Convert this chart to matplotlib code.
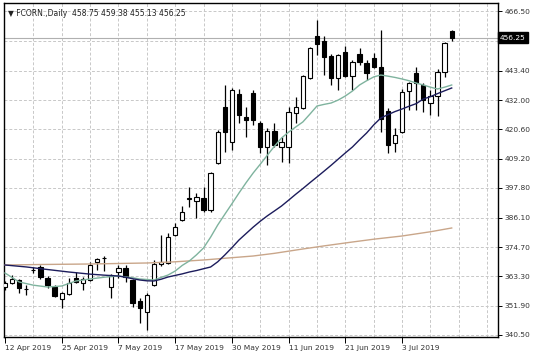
import matplotlib
matplotlib.use("Agg")
import matplotlib.pyplot as plt
import numpy as np

# daily bars, 12 Apr 2019 .. 15 Jul 2019 (bar index 0..63)
opens = [359.19, 360.75, 361.92, 358.41, 365.81, 366.98, 362.70, 359.19, 354.52, 356.47,
         362.70, 360.75, 361.92, 368.93, 370.48, 359.19, 365.03, 366.59, 361.92, 353.74,
         349.46, 359.97, 368.15, 368.54, 379.44, 385.28, 393.46, 392.68, 393.85, 389.18,
         407.48, 429.28, 415.65, 434.35, 425.39, 434.73, 423.05, 413.71, 419.94, 413.71,
         413.71, 426.95, 428.89, 440.58, 456.93, 454.98, 449.14, 440.58, 450.70, 441.35,
         449.92, 446.42, 448.36, 444.86, 427.73, 415.26, 419.55, 435.51, 442.52, 437.85,
         430.84, 433.57, 442.91, 458.75]
highs = [361.53, 363.86, 362.31, 359.97, 366.98, 367.76, 363.47, 359.97, 357.24, 362.70,
         365.03, 363.09, 368.93, 370.48, 371.26, 364.25, 367.76, 367.76, 362.31, 354.91,
         356.85, 369.71, 379.44, 380.22, 384.11, 390.73, 398.13, 395.79, 398.13, 403.97,
         420.33, 437.85, 436.68, 436.29, 429.28, 435.90, 423.83, 421.11, 423.05, 417.60,
         429.28, 433.18, 441.74, 452.65, 463.16, 456.93, 449.92, 449.92, 453.04, 447.59,
         452.26, 447.59, 450.31, 459.27, 428.89, 421.11, 436.29, 439.02, 444.86, 438.63,
         435.90, 444.08, 454.59, 459.38]
lows = [358.02, 360.36, 356.85, 356.08, 364.64, 362.31, 358.80, 355.30, 351.01, 356.08,
        360.75, 358.02, 361.53, 365.81, 365.42, 354.91, 362.70, 361.14, 351.40, 345.17,
        342.45, 359.58, 367.37, 368.15, 379.05, 384.89, 390.34, 386.06, 388.40, 388.40,
        407.09, 411.76, 412.54, 423.05, 417.60, 422.27, 411.37, 406.70, 413.71, 407.87,
        407.48, 423.05, 428.50, 440.19, 449.53, 441.74, 437.85, 435.90, 440.97, 435.90,
        445.64, 439.80, 444.47, 419.55, 411.37, 411.76, 419.16, 428.12, 428.12, 427.34,
        426.17, 425.78, 440.97, 455.13]
closes = [360.75, 362.31, 358.80, 358.22, 365.90, 363.09, 359.97, 355.69, 356.85, 360.75,
          361.14, 362.31, 367.76, 370.09, 370.29, 363.86, 366.59, 363.09, 352.96, 351.01,
          356.08, 368.15, 368.93, 378.66, 382.56, 388.40, 393.85, 394.24, 389.18, 403.58,
          419.55, 419.55, 435.90, 426.17, 424.22, 424.22, 413.71, 419.94, 414.49, 415.65,
          427.34, 429.28, 441.35, 452.26, 453.82, 448.75, 440.58, 449.53, 441.35, 446.81,
          446.81, 442.52, 444.86, 424.61, 414.49, 418.38, 435.12, 438.63, 438.63, 432.01,
          433.57, 442.91, 454.20, 456.25]

# moving averages (bar index, value)
ma_fast_idx = [0, 2, 4, 6, 8, 10, 12, 14, 16, 18, 19, 21, 23, 24, 25, 26, 27, 28, 29, 30,
               31, 32, 33, 34, 35, 36, 37, 38, 39, 40, 41, 42, 43, 44, 45, 46, 47, 48, 49,
               50, 51, 52, 53, 54, 55, 56, 57, 58, 59, 60, 61, 62, 63]
ma_fast = [364.64, 361.14, 359.90, 359.19, 359.58, 361.53, 362.31, 363.00, 363.47, 362.80,
           362.31, 361.92, 363.86, 365.40, 367.60, 369.32, 371.70, 374.38, 378.60, 383.33,
           387.50, 391.60, 395.79, 399.80, 403.58, 407.00, 410.50, 414.00, 417.21, 419.50,
           421.50, 423.44, 426.50, 429.67, 430.30, 430.84, 432.00, 433.57, 435.50, 437.85,
           439.50, 441.00, 441.74, 441.30, 440.80, 440.19, 439.50, 438.60, 437.85, 437.00,
           436.29, 437.00, 437.85]
ma_mid_idx = [0, 3, 6, 9, 12, 14, 16, 17, 18, 19, 20, 21, 22, 23, 24, 25, 26, 27, 28, 29,
              30, 31, 32, 33, 34, 35, 36, 37, 38, 39, 40, 41, 42, 43, 44, 45, 46, 47, 48,
              49, 50, 51, 52, 53, 54, 55, 56, 57, 58, 59, 60, 61, 62, 63]
ma_mid = [367.76, 367.00, 366.00, 365.03, 364.20, 363.80, 363.47, 363.00, 362.40, 361.92,
          361.60, 361.53, 362.20, 363.09, 363.70, 364.30, 365.03, 365.60, 366.30, 366.98,
          369.00, 371.65, 374.50, 377.49, 380.00, 382.50, 384.80, 386.90, 388.80, 390.73,
          393.00, 395.30, 397.50, 399.80, 402.03, 404.30, 406.60, 409.00, 411.40, 413.71,
          416.50, 419.16, 422.30, 425.00, 426.30, 427.50, 428.50, 429.60, 430.60, 432.40,
          433.30, 434.50, 435.60, 436.68]
ma_slow_idx = [0, 5, 12, 20, 24, 28, 32, 35, 38, 42, 45, 49, 52, 56, 60, 63]
ma_slow = [367.76, 367.95, 368.15, 368.54, 369.00, 369.71, 370.60, 371.26, 372.30, 373.99,
           375.20, 376.71, 377.80, 379.05, 380.70, 382.17]

date_ticks = [0, 8, 16, 24, 32, 40, 48, 56]
date_labels = ["12 Apr 2019", "25 Apr 2019", "7 May 2019", "17 May 2019",
               "30 May 2019", "11 Jun 2019", "21 Jun 2019", "3 Jul 2019"]
price_ticks = [340.50, 351.90, 363.30, 374.70, 386.10, 397.80, 409.20, 420.60,
               432.00, 443.40, 454.80, 466.50]
price_labels = ["340.50", "351.90", "363.30", "374.70", "386.10", "397.80", "409.20",
                "420.60", "432.00", "443.40", "", "466.50"]
last_price = 456.25
header = "FCORN.,Daily  458.75 459.38 455.13 456.25"

FS = 5.4
plt.rcParams["font.family"] = ["DejaVu Sans"]

fig = plt.figure(figsize=(5.36, 3.58), dpi=100)
ax = fig.add_axes([4 / 536, 21 / 358, 494 / 536, 334 / 358])

o = np.array(opens)
h = np.array(highs)
l = np.array(lows)
c = np.array(closes)
idx = np.arange(len(o))
up = c >= o

# grid
for t in price_ticks:
    ax.axhline(t, color="#c8c8c8", lw=0.7, ls=(0, (3, 2)), zorder=0)
for xg in range(4, 70, 4):
    ax.axvline(xg, color="#c8c8c8", lw=0.7, ls=(0, (3, 2)), zorder=0)
ax.axhline(last_price, color="#b0b0b0", lw=0.8, zorder=0.5)

# candles
ax.vlines(idx, l, h, color="black", lw=0.9, zorder=2)
body_lo = np.minimum(o, c)
body_h = np.maximum(np.abs(c - o), 0.12)
ax.bar(idx[up], body_h[up], bottom=body_lo[up], width=0.6, color="white",
       edgecolor="black", linewidth=0.8, zorder=3)
ax.bar(idx[~up], body_h[~up], bottom=body_lo[~up], width=0.6, color="black",
       edgecolor="black", linewidth=0.8, zorder=3)

# moving averages
ax.plot(ma_slow_idx, ma_slow, color="#c9a68a", lw=1.0, zorder=4)
ax.plot(ma_fast_idx, ma_fast, color="#7fb39e", lw=1.0, zorder=4)
ax.plot(ma_mid_idx, ma_mid, color="#1c1c5c", lw=1.0, zorder=4)

ax.set_xlim(-0.14, 69.53)
ax.set_ylim(339.72, 469.78)

ax.yaxis.tick_right()
ax.set_yticks(price_ticks)
ax.set_yticklabels(price_labels, fontsize=FS, color="#333333")
ax.tick_params(axis="y", length=3, width=0.7, pad=2)

ax.set_xticks(date_ticks)
ax.set_xticklabels(date_labels, fontsize=FS, color="#333333", ha="left")
ax.tick_params(axis="x", length=4, width=0.7, pad=1.5)

for s in ax.spines.values():
    s.set_color("black")
    s.set_linewidth(1.0)

# last price box
ax.text(1.004, last_price, f"{last_price:.2f}", transform=ax.get_yaxis_transform(),
        fontsize=FS, color="white", va="center", ha="left",
        bbox=dict(boxstyle="square,pad=0.3", fc="black", ec="black"))

# header
ax.text(0.008, 0.982, "\u25bc " + header, transform=ax.transAxes, fontsize=5.5,
        color="#222222", va="top", ha="left")

fig.savefig("out.png", dpi=100)
